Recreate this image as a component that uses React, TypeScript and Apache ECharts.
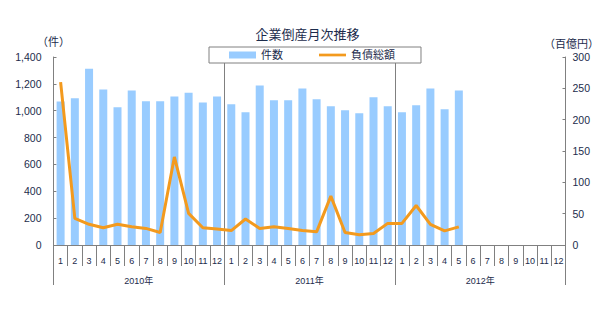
import React, { useEffect, useRef } from 'react';
import * as echarts from 'echarts';

const monthLabels: string[] = [
  '1', '2', '3', '4', '5', '6', '7', '8', '9', '10', '11', '12',
  '1', '2', '3', '4', '5', '6', '7', '8', '9', '10', '11', '12',
  '1', '2', '3', '4', '5', '6', '7', '8', '9', '10', '11', '12',
];
const yearLabels: string[] = ['2010年', '2011年', '2012年'];

// 件数
const caseCounts: (number | null)[] = [
  1069, 1092, 1312, 1158, 1025, 1150, 1070, 1071, 1106, 1134, 1062, 1106,
  1048, 989, 1188, 1077, 1077, 1165, 1085, 1033, 1004, 981, 1100, 1033,
  988, 1040, 1165, 1010, 1150, null, null, null, null, null, null, null,
];

// 負債総額（百億円）
const debtTotals: (number | null)[] = [
  260, 42.5, 33, 27.5, 33, 29, 26.5, 20, 140.5, 50.5, 27.5, 25.5,
  23, 41.5, 26.5, 29, 26.5, 23, 21, 78, 20, 16.5, 18.5, 34.5,
  34.5, 63, 33, 22.5, 29, null, null, null, null, null, null, null,
];

const leftTicks = { min: 0, max: 1400, interval: 200 };
const rightTicks = { min: 0, max: 300, interval: 50 };

const NAVY = '#1c2c4c';
const GRAY = '#808080';
const FONT = "'Liberation Sans', 'Noto Sans CJK JP', sans-serif";

export default function App() {
  const ref = useRef<HTMLDivElement>(null);

  useEffect(() => {
    if (!ref.current) return;
    const chart = echarts.init(ref.current, null, { renderer: 'svg' });
    const gridBox = { left: 53.5, right: 49.5, top: 57, bottom: 65 };
    chart.setOption({
      animation: false,
      textStyle: { fontFamily: FONT, color: NAVY },
      title: {
        text: '企業倒産月次推移',
        left: 'center',
        top: 23,
        textStyle: { fontSize: 13, fontWeight: 'normal', color: NAVY, fontFamily: FONT },
      },
      legend: {
        left: 209,
        top: 47,
        padding: [2, 26, 2, 20],
        itemGap: 36,
        itemWidth: 27,
        itemHeight: 7,
        borderColor: GRAY,
        borderWidth: 1,
        backgroundColor: '#ffffff',
        textStyle: { fontSize: 11, color: NAVY, fontFamily: FONT, lineHeight: 12 },
        data: [
          { name: '件数', icon: 'rect' },
          { name: '負債総額', icon: 'path://M0,0 H30 V3 H0 Z' },
        ],
        z: 10,
      },
      grid: [
        { ...gridBox, containLabel: false },
        { ...gridBox, containLabel: false },
      ],
      xAxis: [
        {
          type: 'category',
          gridIndex: 0,
          position: 'bottom',
          data: monthLabels,
          boundaryGap: true,
          axisLine: { show: true, lineStyle: { color: GRAY, width: 1 } },
          axisTick: { show: true, interval: 0, length: 21, lineStyle: { color: GRAY, width: 1 } },
          axisLabel: { interval: 0, margin: 11, fontSize: 9, color: NAVY, fontFamily: FONT },
          splitLine: { show: false },
        },
        {
          type: 'category',
          gridIndex: 1,
          position: 'bottom',
          data: yearLabels,
          boundaryGap: true,
          axisLine: { show: true, lineStyle: { color: GRAY, width: 1 } },
          axisTick: { show: true, interval: 0, length: 40, lineStyle: { color: GRAY, width: 1 } },
          axisLabel: { interval: 0, margin: 31, fontSize: 9, color: NAVY, fontFamily: FONT },
          splitLine: { show: true, interval: 0, lineStyle: { color: GRAY, width: 1 } },
        },
      ],
      yAxis: [
        {
          type: 'value',
          gridIndex: 0,
          position: 'left',
          ...leftTicks,
          name: '（件）',
          nameLocation: 'end',
          nameGap: 10,
          nameTextStyle: { fontSize: 11, color: NAVY, fontFamily: FONT },
          axisLine: { show: true, lineStyle: { color: GRAY, width: 1 } },
          axisTick: { show: true, inside: true, length: 3, lineStyle: { color: GRAY } },
          axisLabel: {
            margin: 12,
            fontSize: 10.5,
            color: NAVY,
            fontFamily: FONT,
            formatter: (v: number) => v.toLocaleString('en-US'),
          },
          splitLine: { show: false },
        },
        {
          type: 'value',
          gridIndex: 0,
          position: 'right',
          ...rightTicks,
          name: '（百億円）',
          nameLocation: 'end',
          nameGap: 8,
          nameTextStyle: { fontSize: 11, color: NAVY, fontFamily: FONT, padding: [0, 0, 0, 12] },
          axisLine: { show: true, lineStyle: { color: GRAY, width: 1 } },
          axisTick: { show: true, inside: true, length: 3, lineStyle: { color: GRAY } },
          axisLabel: { margin: 7, fontSize: 10.5, color: NAVY, fontFamily: FONT },
          splitLine: { show: false },
        },
        {
          type: 'value',
          gridIndex: 1,
          show: false,
          min: 0,
          max: 1,
        },
      ],
      series: [
        {
          name: '件数',
          type: 'bar',
          xAxisIndex: 0,
          yAxisIndex: 0,
          data: caseCounts,
          barWidth: 8,
          itemStyle: { color: '#99CCFF' },
        },
        {
          name: '負債総額',
          type: 'line',
          xAxisIndex: 0,
          yAxisIndex: 1,
          data: debtTotals,
          symbol: 'none',
          connectNulls: false,
          lineStyle: { color: '#F39A1E', width: 3 },
          itemStyle: { color: '#F39A1E' },
        },
      ],
    });
    return () => chart.dispose();
  }, []);

  return (
    <div
      ref={ref}
      style={{ position: 'absolute', left: 0, top: 0, width: 615, height: 310 }}
    />
  );
}
